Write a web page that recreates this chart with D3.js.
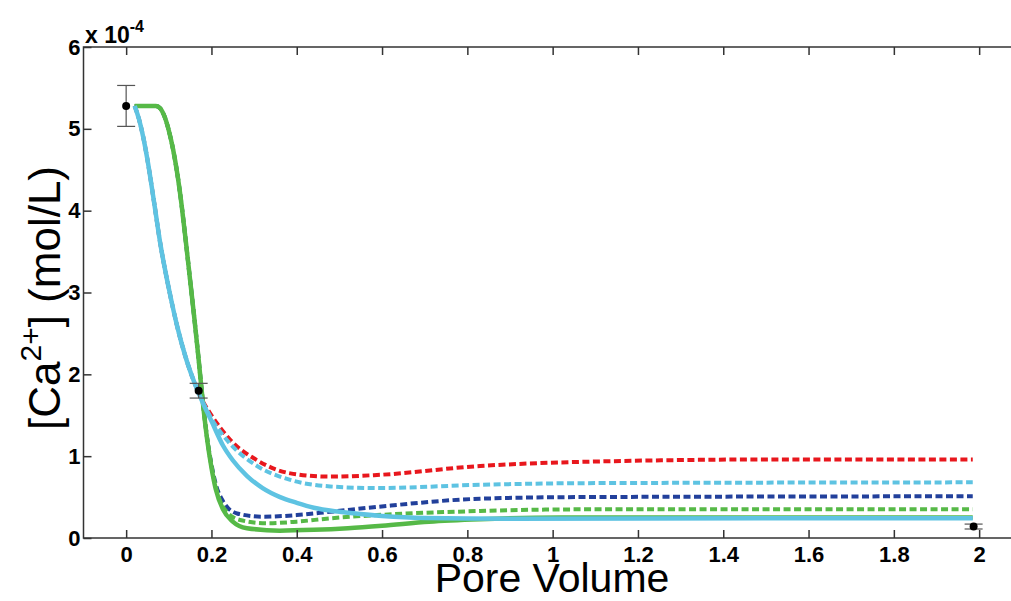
<!DOCTYPE html>
<html>
<head>
<meta charset="utf-8">
<script src="https://cdn.jsdelivr.net/npm/d3@7"></script>
<style>
  body { margin: 0; background: #fff; }
  svg { display: block; font-family: "Liberation Sans", Arial, sans-serif; }
</style>
</head>
<body>
<div class="ca-chart"></div>
<script>

// x = pore volume, y = [Ca2+] in units of 1e-4 mol/L
var xTicks = [0, 0.2, 0.4, 0.6, 0.8, 1, 1.2, 1.4, 1.6, 1.8, 2];
var yTicks = [0, 1, 2, 3, 4, 5, 6];

var greenSolid = [[0.02,5.28],[0.07,5.28],[0.08,5.25],[0.09,5.15],[0.10,4.98],[0.11,4.75],[0.12,4.45],[0.13,4.07],[0.14,3.62],[0.15,3.15],[0.16,2.68],[0.17,2.18],[0.18,1.65],[0.19,1.2],[0.20,0.86],[0.21,0.6],[0.227,0.35],[0.25,0.2],[0.283,0.12],[0.36,0.09],[0.44,0.1],[0.52,0.12],[0.6,0.15],[0.71,0.2],[0.83,0.23],[1.02,0.25],[1.5,0.25],[1.985,0.25]];

var cyanSolid = [[0.02,5.28],[0.03,5.12],[0.04,4.9],[0.05,4.62],[0.065,4.12],[0.08,3.6],[0.10,3.05],[0.12,2.58],[0.14,2.2],[0.16,1.9],[0.18,1.65],[0.20,1.43],[0.227,1.13],[0.25,0.95],[0.283,0.76],[0.32,0.61],[0.361,0.5],[0.40,0.43],[0.44,0.37],[0.5,0.32],[0.6,0.27],[0.7,0.245],[0.9,0.235],[1.5,0.24],[1.985,0.24]];

var redDashed = [[0.02,5.28],[0.03,5.12],[0.04,4.9],[0.05,4.62],[0.065,4.12],[0.08,3.6],[0.10,3.05],[0.12,2.58],[0.14,2.2],[0.16,1.9],[0.18,1.67],[0.20,1.5],[0.244,1.2],[0.307,0.95],[0.385,0.79],[0.478,0.75],[0.588,0.77],[0.83,0.88],[1.065,0.93],[1.53,0.96],[1.985,0.96]];

var cyanDashed = [[0.02,5.28],[0.03,5.12],[0.04,4.9],[0.05,4.62],[0.065,4.12],[0.08,3.6],[0.10,3.05],[0.12,2.58],[0.14,2.2],[0.16,1.9],[0.18,1.66],[0.20,1.46],[0.244,1.15],[0.307,0.88],[0.385,0.71],[0.478,0.63],[0.588,0.61],[0.83,0.65],[1.065,0.67],[1.985,0.68]];

var blueDashed = [[0.02,5.28],[0.07,5.28],[0.08,5.25],[0.09,5.15],[0.10,4.98],[0.11,4.75],[0.12,4.45],[0.13,4.07],[0.14,3.62],[0.15,3.15],[0.16,2.68],[0.17,2.18],[0.18,1.66],[0.19,1.22],[0.20,0.9],[0.21,0.66],[0.227,0.45],[0.26,0.3],[0.32,0.26],[0.40,0.28],[0.478,0.32],[0.588,0.38],[0.83,0.48],[1.065,0.5],[1.985,0.51]];

var greenDashed = [[0.02,5.28],[0.07,5.28],[0.08,5.25],[0.09,5.15],[0.10,4.98],[0.11,4.75],[0.12,4.45],[0.13,4.07],[0.14,3.62],[0.15,3.15],[0.16,2.68],[0.17,2.18],[0.18,1.65],[0.19,1.21],[0.20,0.88],[0.21,0.63],[0.227,0.38],[0.267,0.22],[0.33,0.18],[0.40,0.2],[0.478,0.24],[0.588,0.28],[0.83,0.33],[1.065,0.35],[1.985,0.35]];

// measured points: [pv, value, error]
var measured = [[0, 5.28, 0.25], [0.17, 1.80, 0.09], [1.987, 0.14, 0.03]];

var green = "#56b947";
var cyan = "#5ec3e2";
var red = "#e8171d";
var blue = "#22409b";

var width = 1011, height = 601;
var box = {left: 83.5, right: 1021.8, top: 47, bottom: 538};

var svg = d3.select(".ca-chart")
  .append("svg")
    .attr("width", width)
    .attr("height", height)
    .style("overflow", "hidden");

var x = d3.scaleLinear().domain([-0.1, 2.1]).range([box.left, box.right]);
var y = d3.scaleLinear().domain([0, 6]).range([box.bottom, box.top]);

var line = d3.line()
  .x(function(d) { return x(d[0]); })
  .y(function(d) { return y(d[1]); })
  .curve(d3.curveMonotoneX);

// dashed model runs
var dashed = [
  {data: redDashed, color: red},
  {data: cyanDashed, color: cyan},
  {data: blueDashed, color: blue},
  {data: greenDashed, color: green}
];

svg.selectAll(".dash-line")
  .data(dashed)
  .enter()
  .append("path")
    .attr("class", "dash-line")
    .attr("d", function(d) { return line(d.data); })
    .attr("fill", "none")
    .attr("stroke", function(d) { return d.color; })
    .attr("stroke-width", 4)
    .attr("stroke-dasharray", "7,3.5");

// solid model runs
var solid = [
  {data: greenSolid, color: green},
  {data: cyanSolid, color: cyan}
];

svg.selectAll(".solid-line")
  .data(solid)
  .enter()
  .append("path")
    .attr("class", "solid-line")
    .attr("d", function(d) { return line(d.data); })
    .attr("fill", "none")
    .attr("stroke", function(d) { return d.color; })
    .attr("stroke-width", 4.5)
    .attr("stroke-linejoin", "round");

// error bars + points
var errs = svg.selectAll(".err")
  .data(measured)
  .enter()
  .append("g")
    .attr("class", "err")
    .attr("stroke", "#555")
    .attr("stroke-width", 1.2);

errs.append("line")
  .attr("x1", function(d) { return x(d[0]); })
  .attr("x2", function(d) { return x(d[0]); })
  .attr("y1", function(d) { return y(d[1] - d[2]); })
  .attr("y2", function(d) { return y(d[1] + d[2]); });

errs.append("line")
  .attr("x1", function(d) { return x(d[0]) - 9; })
  .attr("x2", function(d) { return x(d[0]) + 9; })
  .attr("y1", function(d) { return y(d[1] + d[2]); })
  .attr("y2", function(d) { return y(d[1] + d[2]); });

errs.append("line")
  .attr("x1", function(d) { return x(d[0]) - 9; })
  .attr("x2", function(d) { return x(d[0]) + 9; })
  .attr("y1", function(d) { return y(d[1] - d[2]); })
  .attr("y2", function(d) { return y(d[1] - d[2]); });

svg.selectAll(".pt")
  .data(measured)
  .enter()
  .append("circle")
    .attr("class", "pt")
    .attr("cx", function(d) { return x(d[0]); })
    .attr("cy", function(d) { return y(d[1]); })
    .attr("r", 4)
    .attr("fill", "#000");

// frame
svg.append("rect")
  .attr("x", box.left)
  .attr("y", box.top)
  .attr("width", box.right - box.left)
  .attr("height", box.bottom - box.top)
  .attr("fill", "none")
  .attr("stroke", "#333")
  .attr("stroke-width", 1.5);

// axes
var xAxis = svg.append("g")
  .attr("transform", "translate(0," + box.bottom + ")")
  .call(d3.axisBottom(x).tickValues(xTicks).tickSizeInner(-8).tickSizeOuter(0).tickPadding(8)
    .tickFormat(function(d) { return String(d); }));

svg.append("g")
  .attr("transform", "translate(0," + box.top + ")")
  .call(d3.axisTop(x).tickValues(xTicks).tickSizeInner(-8).tickSizeOuter(0).tickFormat(""));

var yAxis = svg.append("g")
  .attr("transform", "translate(" + box.left + ",0)")
  .call(d3.axisLeft(y).tickValues(yTicks).tickSizeInner(-8).tickSizeOuter(0).tickPadding(3)
    .tickFormat(function(d) { return String(d); }));

svg.selectAll(".domain").remove();
svg.selectAll(".tick line").attr("stroke", "#333").attr("stroke-width", 1.5);

svg.selectAll(".tick text")
  .attr("font-size", 22)
  .attr("font-weight", "bold")
  .attr("font-family", "'Liberation Sans', Arial, sans-serif")
  .attr("fill", "#000");

// exponent label
var expo = svg.append("text")
  .attr("x", 85)
  .attr("y", 43)
  .attr("font-size", 23)
  .attr("font-weight", "bold")
  .attr("fill", "#000");
expo.append("tspan").text("x 10");
expo.append("tspan").attr("font-size", 16).attr("dy", -11).text("-4");

// axis titles
svg.append("text")
  .attr("x", 552)
  .attr("y", 592)
  .attr("text-anchor", "middle")
  .attr("font-size", 41)
  .attr("fill", "#000")
  .text("Pore Volume");

var ylab = svg.append("text")
  .attr("transform", "translate(60,298) rotate(-90)")
  .attr("text-anchor", "middle")
  .attr("font-size", 44)
  .attr("fill", "#000");
ylab.append("tspan").text("[Ca");
ylab.append("tspan").attr("font-size", 30).attr("dy", -19).text("2+");
ylab.append("tspan").attr("dy", 19).text("] (mol/L)");

</script>
</body>
</html>
